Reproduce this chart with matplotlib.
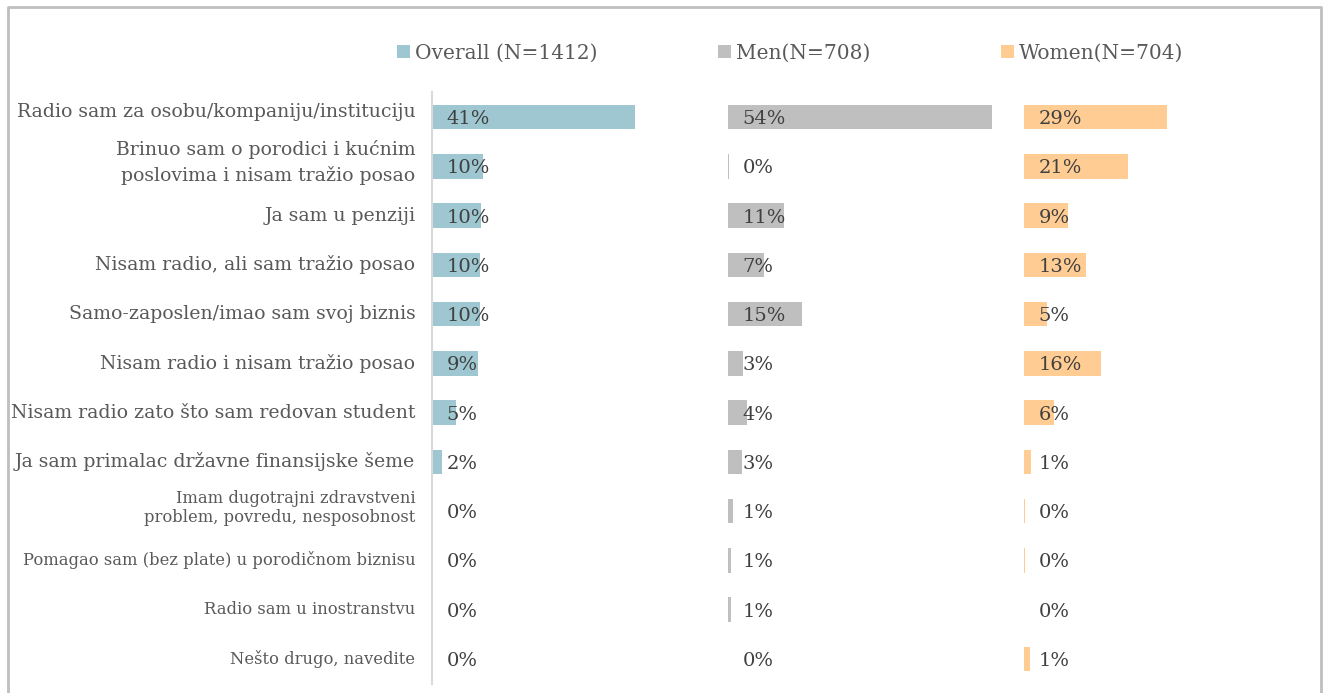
import matplotlib
matplotlib.use("Agg")
import matplotlib.pyplot as plt
import matplotlib.transforms as mtransforms
from matplotlib.patches import Patch
from matplotlib.lines import Line2D

plt.rcParams["font.family"] = ["DejaVu Serif"]

categories = [
    "Radio sam za osobu/kompaniju/instituciju",
    "Brinuo sam o porodici i kućnim\nposlovima i nisam tražio posao",
    "Ja sam u penziji",
    "Nisam radio, ali sam tražio posao",
    "Samo-zaposlen/imao sam svoj biznis",
    "Nisam radio i nisam tražio posao",
    "Nisam radio zato što sam redovan student",
    "Ja sam primalac državne finansijske šeme",
    "Imam dugotrajni zdravstveni\nproblem, povredu, nesposobnost",
    "Pomagao sam (bez plate) u porodičnom biznisu",
    "Radio sam u inostranstvu",
    "Nešto drugo, navedite",
]
overall = [41.2, 10.3, 9.9, 9.7, 9.7, 9.3, 4.9, 2.0, 0.3, 0.3, 0.2, 0.3]
men = [53.6, 0.2, 11.4, 7.3, 15.0, 3.0, 3.9, 2.8, 1.0, 0.7, 0.6, 0.0]
women = [29.0, 21.1, 8.9, 12.6, 4.6, 15.6, 6.1, 1.4, 0.2, 0.3, 0.0, 1.2]
series = ["Overall (N=1412)", "Men(N=708)", "Women(N=704)"]
colors = ["#9EC7D1", "#BFBFBF", "#FFCD93"]

W, H = 1323, 693
fig = plt.figure(figsize=(W / 100, H / 100), dpi=100)

# outer frame
fig.add_artist(Line2D([8 / W, 8 / W, 1321 / W, 1321 / W], [0, 1 - 7 / H, 1 - 7 / H, 0],
                      transform=fig.transFigure, color="#BFBFBF", lw=2))

lefts = [432, 728, 1024]
bottom, height = (H - 683.6) / H, 591.2 / H
drop = mtransforms.ScaledTranslation(0, -2 / 100, fig.dpi_scale_trans)
lift_px = {0: 5, 1: 4, 8: 3}
for k, (vals, col, left) in enumerate(zip([overall, men, women], colors, lefts)):
    ax = fig.add_axes([left / W, bottom, 296 / W, height])
    y = range(len(categories))
    ax.barh(y, vals, height=0.5, color=col)
    for i, v in enumerate(vals):
        ax.text(3.0, i, f"{v:.0f}%", va="center", ha="left", fontsize=14, color="#404040",
                transform=ax.transData + drop)
    ax.set_xlim(0, 60)
    ax.set_ylim(len(categories) - 0.5, -0.5)
    ax.set_xticks([])
    for s in ax.spines.values():
        s.set_visible(False)
    if k == 0:
        ax.spines["left"].set_visible(True)
        ax.spines["left"].set_color("#D9D9D9")
        ax.spines["left"].set_linewidth(1.5)
        ax.set_yticks(list(y))
        ax.set_yticklabels(categories, color="#595959", multialignment="right")
        ax.tick_params(axis="y", length=0, pad=12)
        for i, t in enumerate(ax.get_yticklabels()):
            t.set_fontsize(13.6 if i < 8 else 11.8)
            t.set_verticalalignment("center")
            if i in lift_px:
                off = mtransforms.ScaledTranslation(0, lift_px[i] / 100, fig.dpi_scale_trans)
                t.set_transform(t.get_transform() + off)
            if i == 1:
                t.set_linespacing(1.45)
    else:
        ax.set_yticks([])
    ax.patch.set_alpha(0)

# legend entries placed one by one
for name, col, x0 in zip(series, colors, [397, 718, 1001]):
    fig.legend([Patch(facecolor=col, edgecolor="none")], [name], loc="center left",
               bbox_to_anchor=(x0 / W, 1 - 53 / H), frameon=False, fontsize=14.5,
               borderpad=0, borderaxespad=0, handlelength=0.65, handleheight=0.65,
               handletextpad=0.25, labelcolor="#595959")

fig.savefig("out.png", dpi=100)
